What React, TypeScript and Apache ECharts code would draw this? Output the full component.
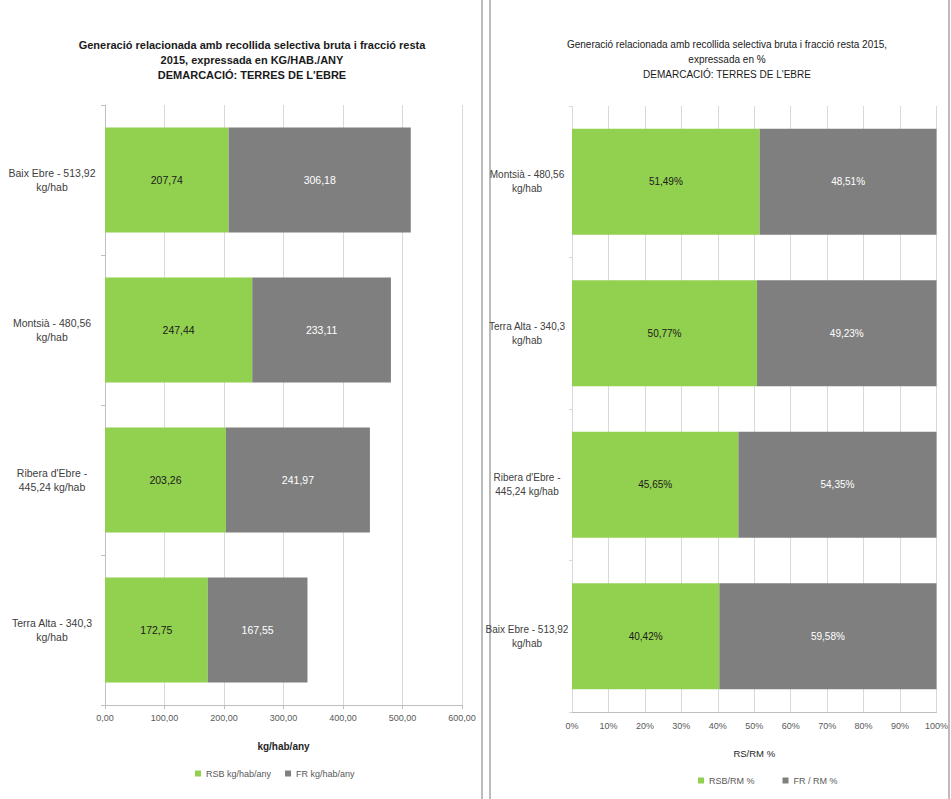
import React, { useEffect, useRef } from "react";
import * as echarts from "echarts";

// Left chart: kg/hab/any (top to bottom)
const kgCategories = [
  "Baix Ebre - 513,92\nkg/hab",
  "Montsià - 480,56\nkg/hab",
  "Ribera d'Ebre -\n445,24 kg/hab",
  "Terra Alta - 340,3\nkg/hab",
];
const rsbKg = [207.74, 247.44, 203.26, 172.75];
const frKg = [306.18, 233.11, 241.97, 167.55];
const kgTicks = [0, 100, 200, 300, 400, 500, 600];

// Right chart: % (top to bottom)
const pctCategories = [
  "Montsià - 480,56\nkg/hab",
  "Terra Alta - 340,3\nkg/hab",
  "Ribera d'Ebre -\n445,24 kg/hab",
  "Baix Ebre - 513,92\nkg/hab",
];
const rsbPct = [51.49, 50.77, 45.65, 40.42];
const frPct = [48.51, 49.23, 54.35, 59.58];
const pctTicks = [0, 10, 20, 30, 40, 50, 60, 70, 80, 90, 100];

const FONT = "'Liberation Sans', Arial, sans-serif";
const GREEN = "#92d050";
const GREY = "#7f7f7f";

const fmtComma = (v: number, d: number) => v.toFixed(d).replace(".", ",");

export default function App() {
  const ref = useRef<HTMLDivElement>(null);
  useEffect(() => {
    document.body.style.margin = "0";
    const chart = echarts.init(ref.current!, null, { renderer: "svg" });
    const axisLabelStyle = { fontFamily: FONT, fontSize: 9, color: "#595959" };
    const catLabel = {
      fontFamily: FONT,
      fontSize: 10.5,
      color: "#404040",
      align: "center" as const,
      lineHeight: 14,
    };
    chart.setOption({
      animation: false,
      backgroundColor: "#ffffff",
      title: [
        {
          text:
            "Generació relacionada amb recollida selectiva bruta i fracció resta\n2015, expressada en KG/HAB./ANY\nDEMARCACIÓ: TERRES DE L'EBRE",
          left: 247,
          top: 32,
          textAlign: "center",
          textStyle: {
            fontFamily: FONT,
            fontSize: 11,
            fontWeight: "bold",
            color: "#1a1a1a",
            lineHeight: 15,
          },
        },
        {
          text:
            "Generació relacionada amb recollida selectiva bruta i fracció resta 2015,\nexpressada en %\nDEMARCACIÓ: TERRES DE L'EBRE",
          left: 722,
          top: 32,
          textAlign: "center",
          textStyle: {
            fontFamily: FONT,
            fontSize: 10,
            fontWeight: "normal",
            color: "#1a1a1a",
            lineHeight: 15,
          },
        },
      ],
      legend: [
        {
          left: 190,
          top: 764,
          icon: "rect",
          itemWidth: 6,
          itemHeight: 6,
          itemGap: 14,
          textStyle: { fontFamily: FONT, fontSize: 9, color: "#595959" },
          data: ["RSB kg/hab/any", "FR kg/hab/any"],
        },
        {
          left: 693,
          top: 771,
          icon: "rect",
          itemWidth: 6,
          itemHeight: 6,
          itemGap: 28,
          textStyle: { fontFamily: FONT, fontSize: 9, color: "#595959" },
          data: ["RSB/RM %", "FR / RM %"],
        },
      ],
      graphic: [
        { type: "line", shape: { x1: 482, y1: 0, x2: 482, y2: 799 }, style: { stroke: "#a6a6a6", lineWidth: 1.5 } },
        { type: "line", shape: { x1: 490, y1: 0, x2: 490, y2: 799 }, style: { stroke: "#a6a6a6", lineWidth: 1.5 } },
        { type: "line", shape: { x1: 949, y1: 0, x2: 949, y2: 799 }, style: { stroke: "#a6a6a6", lineWidth: 1.5 } },
      ],
      grid: [
        { left: 105, right: 951 - 462, top: 105, bottom: 799 - 705 },
        { left: 572, right: 951 - 937, top: 106, bottom: 799 - 712 },
      ],
      xAxis: [
        {
          gridIndex: 0,
          type: "value",
          min: kgTicks[0],
          max: kgTicks[kgTicks.length - 1],
          interval: kgTicks[1] - kgTicks[0],
          name: "kg/hab/any",
          nameLocation: "middle",
          nameGap: 36,
          nameTextStyle: { fontFamily: FONT, fontSize: 10, fontWeight: "bold", color: "#262626" },
          axisLine: { show: true, lineStyle: { color: "#bfbfbf" } },
          axisTick: { show: true, length: 4, lineStyle: { color: "#bfbfbf" } },
          axisLabel: { ...axisLabelStyle, margin: 8, formatter: (v: number) => fmtComma(v, 2) },
          splitLine: { show: true, lineStyle: { color: "#d9d9d9" } },
        },
        {
          gridIndex: 1,
          type: "value",
          min: pctTicks[0],
          max: pctTicks[pctTicks.length - 1],
          interval: pctTicks[1] - pctTicks[0],
          name: "RS/RM %",
          nameLocation: "middle",
          nameGap: 36,
          nameTextStyle: { fontFamily: FONT, fontSize: 9.5, color: "#262626" },
          axisLine: { show: true, lineStyle: { color: "#bfbfbf" } },
          axisTick: { show: false },
          axisLabel: { ...axisLabelStyle, margin: 9, formatter: (v: number) => v + "%" },
          splitLine: { show: true, lineStyle: { color: "#d9d9d9" } },
        },
      ],
      yAxis: [
        {
          gridIndex: 0,
          type: "category",
          inverse: true,
          data: kgCategories,
          axisLine: { show: true, lineStyle: { color: "#bfbfbf" } },
          axisTick: { show: true, length: 4, lineStyle: { color: "#bfbfbf" } },
          axisLabel: { ...catLabel, margin: 53 },
        },
        {
          gridIndex: 1,
          type: "category",
          inverse: true,
          data: pctCategories,
          axisLine: { show: false },
          axisTick: { show: true, length: 3, lineStyle: { color: "#d9d9d9" } },
          axisLabel: { ...catLabel, fontSize: 10, margin: 45 },
        },
      ],
      series: [
        {
          name: "RSB kg/hab/any",
          type: "bar",
          stack: "kg",
          xAxisIndex: 0,
          yAxisIndex: 0,
          barCategoryGap: "30%",
          data: rsbKg,
          itemStyle: { color: GREEN },
          label: {
            show: true,
            position: "inside",
            fontFamily: FONT,
            fontSize: 10.5,
            color: "#1a1a1a",
            formatter: (p: any) => fmtComma(p.value, 2),
          },
        },
        {
          name: "FR kg/hab/any",
          type: "bar",
          stack: "kg",
          xAxisIndex: 0,
          yAxisIndex: 0,
          barCategoryGap: "30%",
          data: frKg,
          itemStyle: { color: GREY },
          label: {
            show: true,
            position: "inside",
            fontFamily: FONT,
            fontSize: 10.5,
            color: "#ffffff",
            formatter: (p: any) => fmtComma(p.value, 2),
          },
        },
        {
          name: "RSB/RM %",
          type: "bar",
          stack: "pct",
          xAxisIndex: 1,
          yAxisIndex: 1,
          barCategoryGap: "30%",
          data: rsbPct,
          itemStyle: { color: GREEN },
          label: {
            show: true,
            position: "inside",
            fontFamily: FONT,
            fontSize: 10,
            color: "#1a1a1a",
            formatter: (p: any) => fmtComma(p.value, 2) + "%",
          },
        },
        {
          name: "FR / RM %",
          type: "bar",
          stack: "pct",
          xAxisIndex: 1,
          yAxisIndex: 1,
          barCategoryGap: "30%",
          data: frPct,
          itemStyle: { color: GREY },
          label: {
            show: true,
            position: "inside",
            fontFamily: FONT,
            fontSize: 10,
            color: "#ffffff",
            formatter: (p: any) => fmtComma(p.value, 2) + "%",
          },
        },
      ],
    });
    return () => chart.dispose();
  }, []);
  return (
    <div
      ref={ref}
      style={{ position: "fixed", left: 0, top: 0, width: 951, height: 799, background: "#fff" }}
    />
  );
}
